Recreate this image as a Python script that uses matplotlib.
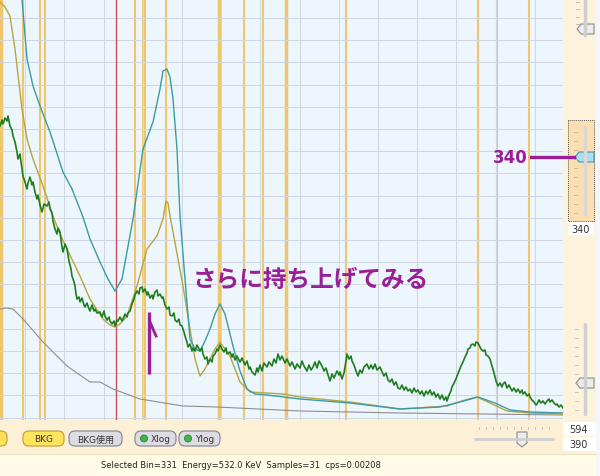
import matplotlib.pyplot as plt
from matplotlib.patches import Rectangle, FancyBboxPatch, Polygon, Circle

plt.rcParams['font.family'] = ['DejaVu Sans', 'Noto Sans CJK JP']

# ---- spectrum data (bin position, counts in arbitrary units) ----
teal_x = [15, 22, 27, 33, 40, 50, 63, 72, 83, 90, 100, 108, 115, 122, 133, 143, 153, 160,
          163, 167, 170, 173, 177, 180, 185, 190, 195, 200, 205, 210, 215, 220, 225, 233,
          240, 247, 255, 267, 300, 350, 400, 440, 460, 478, 495, 510, 530, 563]
teal_y = [463, 423, 363, 336, 316, 290, 250, 233, 205, 183, 160, 143, 131, 143, 203, 273, 300, 333,
          351, 353, 345, 323, 273, 206, 143, 83, 73, 71, 81, 93, 108, 118, 108, 76,
          51, 33, 28, 27, 23, 19, 13, 15, 20, 25, 19, 12, 10, 9]

olive_x = [0, 5, 10, 15, 22, 27, 33, 43, 53, 60, 67, 80, 90, 103, 110, 115, 120, 127, 137, 147,
           157, 163, 166, 168, 170, 173, 178, 183, 190, 195, 200, 205, 210, 215, 220, 225, 230,
           240, 250, 283, 300, 350, 400, 447, 465, 477, 490, 507, 530, 563]
olive_y = [420, 415, 406, 373, 313, 283, 263, 236, 206, 188, 173, 146, 123, 103, 97, 95, 98, 106, 136, 173,
           186, 203, 221, 219, 206, 190, 163, 136, 93, 63, 46, 53, 63, 73, 80, 73, 66,
           40, 30, 28, 25, 20, 13, 16, 22, 25, 19, 11, 9, 8]

gray_x = [0, 6, 13, 23, 43, 67, 90, 100, 113, 140, 183, 217, 300, 400, 563]
gray_y = [113, 114, 113, 103, 80, 56, 40, 40, 33, 23, 16, 15, 11, 9, 7]

green_x = [0, 2, 3, 5, 7, 8, 10, 12, 13, 15,
           17, 18, 20, 21, 23, 25, 27, 28, 30, 32,
           33, 35, 37, 38, 40, 42, 44, 47, 49, 50,
           52, 53, 55, 57, 58, 60, 62, 63, 65, 67,
           69, 71, 72, 74, 75, 76, 77, 79, 80, 82,
           84, 85, 87, 89, 90, 92, 94, 95, 97, 100,
           102, 104, 105, 107, 109, 110, 112, 114, 115, 117,
           118, 120, 122, 123, 125, 127, 128, 130, 132, 134,
           135, 137, 139, 140, 142, 143, 145, 147, 148, 150,
           152, 153, 155, 157, 158, 160, 162, 163, 165, 167,
           169, 170, 172, 174, 175, 177, 179, 180, 182, 184,
           185, 187, 188, 190, 192, 193, 195, 197, 198, 200,
           202, 203, 205, 207, 208, 210, 212, 213, 215, 217,
           218, 220, 222, 224, 226, 227, 230, 232, 233, 235,
           237, 240, 242, 245, 247, 249, 250, 252, 255, 257,
           258, 260, 262, 264, 267, 269, 272, 274, 276, 278,
           280, 282, 285, 287, 290, 292, 295, 297, 300, 302,
           304, 307, 309, 311, 313, 315, 317, 319, 322, 324,
           326, 328, 330, 332, 334, 337, 339, 340, 342, 344,
           346, 347, 349, 351, 352, 354, 356, 358, 360, 362,
           364, 367, 369, 371, 373, 375, 377, 380, 382, 384,
           386, 388, 390, 392, 394, 396, 398, 400, 402, 404,
           406, 408, 410, 412, 414, 416, 418, 420, 422, 424,
           426, 428, 430, 432, 434, 436, 438, 440, 442, 444,
           446, 447, 449, 451, 452, 454, 456, 457, 459, 461,
           463, 465, 467, 468, 470, 471, 473, 475, 476, 478,
           480, 481, 483, 485, 486, 488, 490, 492, 494, 496,
           498, 500, 502, 503, 505, 507, 509, 510, 512, 514,
           516, 518, 520, 522, 523, 525, 527, 529, 530, 532,
           534, 536, 537, 539, 541, 543, 545, 547, 549, 550,
           552, 554, 556, 557, 559, 561, 563]
green_y = [296, 302, 298, 304, 301, 306, 296, 292, 286, 280,
           270, 263, 268, 260, 246, 240, 233, 239, 245, 237,
           240, 230, 223, 227, 217, 210, 218, 216, 220, 213,
           209, 201, 193, 188, 194, 190, 175, 170, 178, 173,
           161, 153, 146, 140, 136, 128, 123, 125, 120, 124,
           117, 115, 119, 113, 111, 117, 111, 113, 109, 110,
           105, 111, 106, 102, 105, 101, 98, 101, 96, 102,
           101, 105, 101, 103, 108, 105, 109, 111, 118, 123,
           127, 131, 128, 134, 135, 130, 133, 127, 130, 124,
           127, 123, 130, 132, 126, 128, 124, 125, 117, 113,
           115, 107, 106, 109, 102, 100, 103, 97, 96, 90,
           86, 80, 75, 78, 71, 74, 71, 77, 75, 71,
           74, 68, 63, 65, 58, 63, 60, 66, 68, 73,
           71, 77, 73, 70, 74, 68, 70, 65, 68, 62,
           66, 60, 64, 57, 61, 53, 55, 50, 47, 54,
           50, 57, 51, 59, 55, 60, 56, 63, 59, 68,
           62, 66, 59, 63, 56, 60, 53, 58, 54, 61,
           56, 51, 57, 52, 55, 60, 54, 61, 56, 51,
           54, 47, 41, 48, 44, 51, 47, 50, 43, 49,
           61, 68, 63, 66, 61, 57, 51, 46, 52, 49,
           55, 58, 53, 57, 53, 58, 52, 55, 50, 46,
           49, 42, 40, 43, 37, 40, 34, 33, 37, 32,
           35, 31, 33, 29, 34, 30, 32, 28, 31, 26,
           31, 28, 32, 27, 30, 25, 28, 23, 27, 22,
           25, 21, 27, 31, 35, 39, 43, 46, 51, 56,
           60, 65, 69, 73, 74, 77, 78, 76, 80, 79,
           75, 73, 71, 72, 67, 66, 63, 56, 49, 41,
           36, 39, 35, 38, 40, 34, 37, 35, 31, 34,
           30, 33, 29, 32, 28, 30, 26, 28, 25, 22,
           20, 17, 18, 22, 19, 21, 18, 21, 23, 20,
           22, 19, 17, 18, 15, 17, 14]

# region-of-interest markers (bin positions) and their line widths
roi_x = [1, 23, 40, 45, 135, 143, 145, 166, 219, 244, 263, 286, 346, 478, 497, 529]
roi_w = [2.5, 1.5, 1.5, 1.5, 1.5, 2.0, 1.5, 1.5, 2.5, 1.5, 1.5, 2.5, 1.5, 1.5, 1.5, 1.5]
selected_bin = 116

grid_x = [25.1, 64.3, 103.5, 142.7, 181.9, 221.1, 260.3, 299.5, 338.7, 377.9, 417.1,
          456.3, 495.5, 534.7]
grid_y = [4.4, 26.6, 48.8, 71.0, 93.2, 115.4, 137.6, 159.8, 182.0, 204.2, 226.4,
          248.6, 270.8, 293.0, 315.2, 337.4, 359.6, 381.8, 404.0]

status_text = "Selected Bin=331  Energy=532.0 KeV  Samples=31  cps=0.00208"
note_text = "さらに持ち上げてみる"
slider_value = "340"
range_hi, range_lo = "594", "390"

PURPLE = '#981f96'

fig = plt.figure(figsize=(6, 4.77), dpi=100)
fig.patch.set_facecolor('#fcf0d6')

# ---- spectrum panel ----
ax = fig.add_axes([0, 56 / 477, 563 / 600, 421 / 477])
ax.set_facecolor('#edf6fd')
ax.set_xlim(0, 563)
ax.set_ylim(2, 423)
ax.set_xticks(grid_x)
ax.set_yticks(grid_y)
ax.grid(True, color='#cfd8e2', linewidth=0.75)
ax.tick_params(length=0, labelbottom=False, labelleft=False)
for s in ax.spines.values():
    s.set_visible(False)

for x, w in zip(roi_x, roi_w):
    ax.axvline(x, color='#efc76a', linewidth=w, zorder=1.5)
ax.axvline(selected_bin, color='#c8505a', linewidth=1.0, zorder=1.6)

ax.plot(gray_x, gray_y, color='#8e8e8e', linewidth=0.8, zorder=2)
ax.plot(olive_x, olive_y, color='#b7a540', linewidth=1.0, zorder=2.1)
ax.plot(teal_x, teal_y, color='#3a9ca2', linewidth=1.0, zorder=2.2)
ax.plot(green_x, green_y, color='#1f7d1f', linewidth=1.2, zorder=2.3)

# ---- UI overlay in pixel coordinates ----
ui = fig.add_axes([0, 0, 1, 1], zorder=3)
ui.set_xlim(0, 600)
ui.set_ylim(477, 0)
ui.axis('off')
ui.patch.set_visible(False)

# right side panel
ui.add_patch(Rectangle((563, 0), 33, 421, facecolor='#fdf2da', edgecolor='none'))
ui.add_patch(Rectangle((596, 0), 4, 477, facecolor='#f3f7fb', edgecolor='none'))
# status bar
ui.add_patch(Rectangle((0, 455), 596, 22, facecolor='#fffbe6', edgecolor='none'))
ui.plot([0, 596], [455, 455], color='#efe2c4', linewidth=0.8)

# top slider
ui.plot([585, 585], [0, 36], color='#cfcfcf', linewidth=2.5, solid_capstyle='round')
for ty in [3, 10, 18, 25]:
    ui.plot([576, 579], [ty, ty], color='#b9b9b9', linewidth=0.6)
ui.add_patch(Polygon([(577, 30), (581, 25), (594, 25), (594, 35), (581, 35)],
                     facecolor='#ececec', edgecolor='#8a8a8a', linewidth=0.8))

# middle slider in dotted box
ui.add_patch(Rectangle((568, 121), 26, 101, facecolor='#fbdfb2', edgecolor='#555555',
                       linewidth=0.7, linestyle=(0, (1, 1))))
ui.plot([585, 585], [128, 215], color='#d8d8d8', linewidth=2.5, solid_capstyle='round')
for ty in range(133, 215, 9):
    ui.plot([574, 577], [ty, ty], color='#c8b592', linewidth=0.6)
ui.add_patch(Polygon([(575, 158), (579, 153), (594, 153), (594, 163), (579, 163)],
                     facecolor='#a9dff0', edgecolor='#4f93ad', linewidth=0.8))
ui.add_patch(Rectangle((568, 223), 26, 13, facecolor='white', edgecolor='none'))
ui.text(581, 230, slider_value, fontsize=7, ha='center', va='center', color='#333333')

# lower slider
ui.plot([585, 585], [325, 415], color='#d0d0d0', linewidth=2.5, solid_capstyle='round')
for ty in range(330, 415, 9):
    ui.plot([575, 578], [ty, ty], color='#bdbdbd', linewidth=0.6)
ui.add_patch(Polygon([(576, 384), (580, 379), (594, 379), (594, 389), (580, 389)],
                     facecolor='#ececec', edgecolor='#8a8a8a', linewidth=0.8))

# range boxes
ui.add_patch(Rectangle((563, 423), 33, 14, facecolor='white', edgecolor='none'))
ui.add_patch(Rectangle((563, 438), 33, 14, facecolor='white', edgecolor='none'))
ui.text(578, 430, range_hi, fontsize=7, ha='center', va='center', color='#333333')
ui.text(578, 445, range_lo, fontsize=7, ha='center', va='center', color='#333333')

# horizontal slider
ui.plot([475, 553], [440, 440], color='#cfcfcf', linewidth=2.0, solid_capstyle='round')
for tx in range(479, 552, 7):
    ui.plot([tx, tx], [428, 430], color='#bdbdbd', linewidth=0.6)
ui.add_patch(Polygon([(517, 433), (527, 433), (527, 444), (522, 448), (517, 444)],
                     facecolor='#ececec', edgecolor='#8a8a8a', linewidth=0.8))

# toolbar buttons
def button(x0, x1, label, face, edge, icon=False):
    ui.add_patch(FancyBboxPatch((x0, 432), x1 - x0, 15,
                                boxstyle='round,pad=0,rounding_size=6',
                                facecolor=face, edgecolor=edge, linewidth=0.9))
    if icon:
        ui.add_patch(Circle((x0 + 9, 439.5), 3.5, facecolor='#3db84a', edgecolor='#2a7a32',
                            linewidth=0.6))
        ui.text((x0 + x1) / 2 + 5, 440, label, fontsize=6.5, ha='center', va='center',
                color='#333333')
    elif label:
        ui.text((x0 + x1) / 2, 440, label, fontsize=6.5, ha='center', va='center',
                color='#333333', family=['DejaVu Sans', 'Noto Sans CJK JP'])

button(-10, 7, '', '#ffe05a', '#c9a23a')
button(23, 64, 'BKG', '#ffe45e', '#c9a23a')
button(69, 122, 'BKG使用', '#dcdce2', '#8c8c98')
button(135, 176, 'Xlog', '#dcdce2', '#8c8c98', icon=True)
button(179, 220, 'Ylog', '#dcdce2', '#8c8c98', icon=True)

ui.text(241, 466, status_text, fontsize=6.0, ha='center', va='center', color='#222222')

# annotations
ui.text(311, 280, note_text, fontsize=17, ha='center', va='center', color=PURPLE,
        fontweight='bold', family=['Noto Sans CJK JP'])
ui.plot([149, 149], [313, 375], color=PURPLE, linewidth=2.4, solid_capstyle='butt')
ui.plot([150, 156], [323, 337], color=PURPLE, linewidth=2.0)
ui.text(510, 158, slider_value, fontsize=12, ha='center', va='center', color=PURPLE,
        fontweight='bold')
ui.plot([531, 574], [158, 158], color=PURPLE, linewidth=2.4)

fig.savefig('out.png', dpi=100)
